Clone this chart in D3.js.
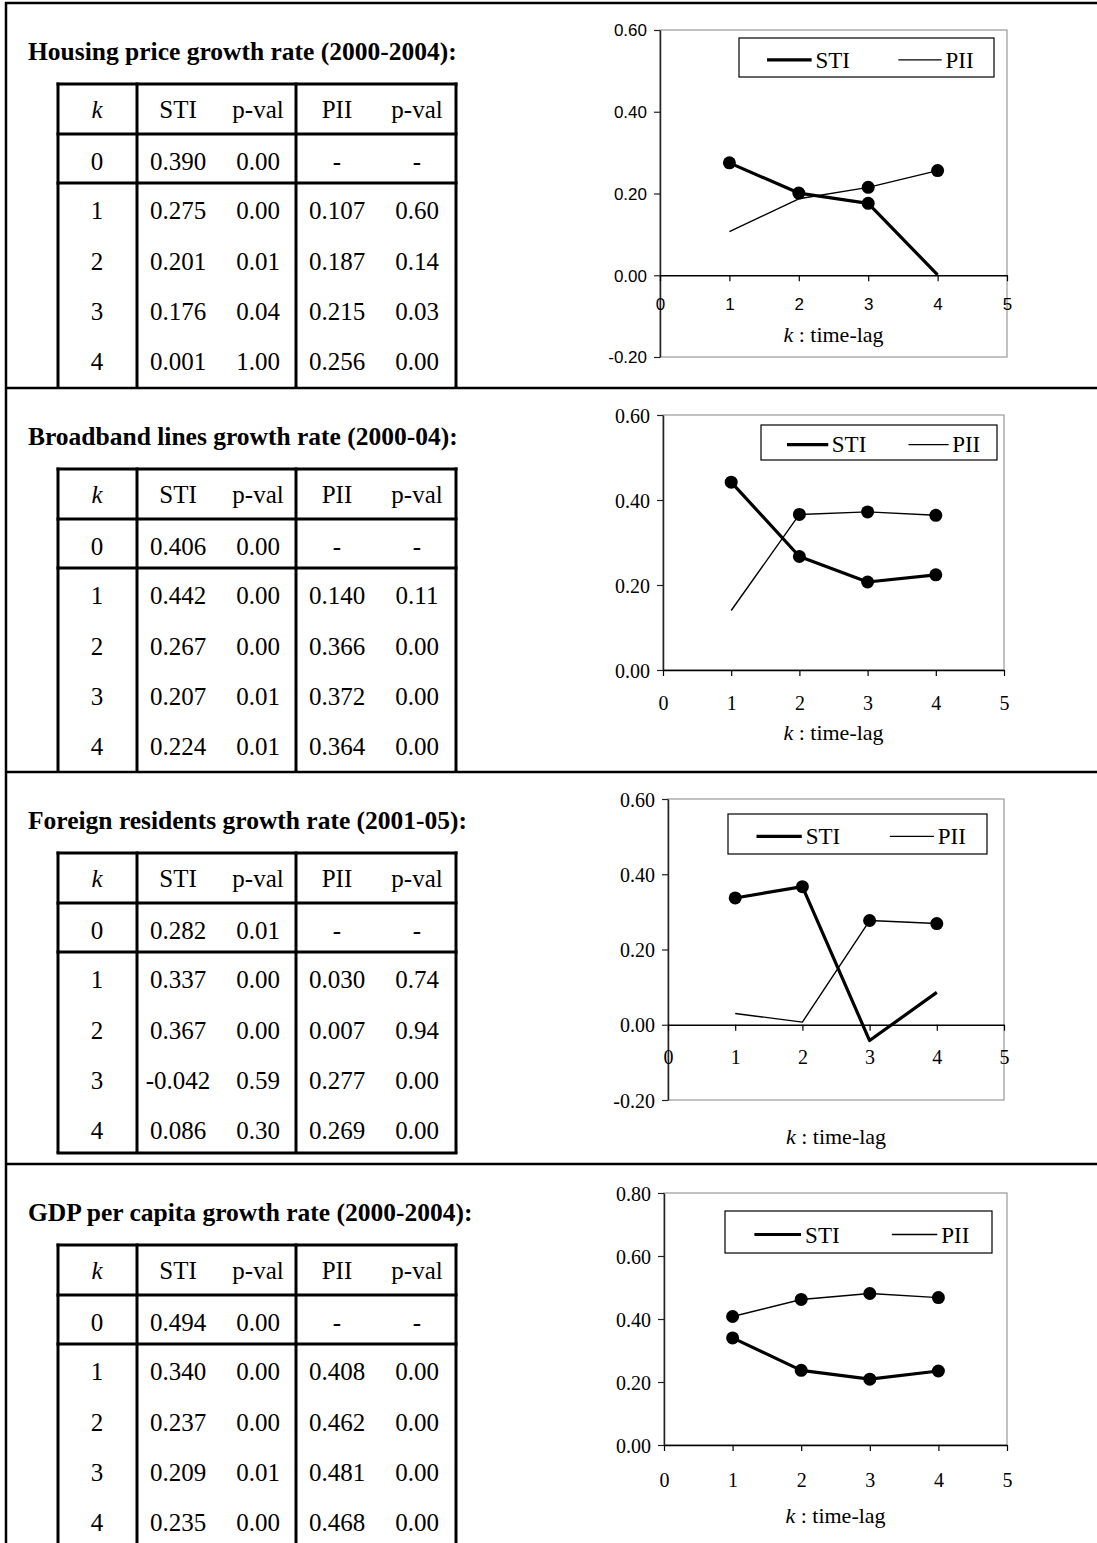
<!DOCTYPE html>
<html>
<head>
<meta charset="utf-8">
<script src="https://cdn.jsdelivr.net/npm/d3@7"></script>
<style>
  html, body { margin: 0; padding: 0; background: #fff; }
  svg { display: block; }
</style>
</head>
<body>
<div id="chart"></div>
<script>
// ---------------- DATA ----------------
const titles = [
  "Housing price growth rate (2000-2004):",
  "Broadband lines growth rate (2000-04):",
  "Foreign residents growth rate (2001-05):",
  "GDP per capita growth rate (2000-2004):"
];
const kValues = [0, 1, 2, 3, 4];
const headerLabels = ["k", "STI", "p-val", "PII", "p-val"];
const stiValues = [
  [0.390, 0.275, 0.201, 0.176, 0.001],
  [0.406, 0.442, 0.267, 0.207, 0.224],
  [0.282, 0.337, 0.367, -0.042, 0.086],
  [0.494, 0.340, 0.237, 0.209, 0.235]
];
const stiPvals = [
  [0.00, 0.00, 0.01, 0.04, 1.00],
  [0.00, 0.00, 0.00, 0.01, 0.01],
  [0.01, 0.00, 0.00, 0.59, 0.30],
  [0.00, 0.00, 0.00, 0.01, 0.00]
];
const piiValues = [
  [null, 0.107, 0.187, 0.215, 0.256],
  [null, 0.140, 0.366, 0.372, 0.364],
  [null, 0.030, 0.007, 0.277, 0.269],
  [null, 0.408, 0.462, 0.481, 0.468]
];
const piiPvals = [
  [null, 0.60, 0.14, 0.03, 0.00],
  [null, 0.11, 0.00, 0.00, 0.00],
  [null, 0.74, 0.94, 0.00, 0.00],
  [null, 0.00, 0.00, 0.00, 0.00]
];
const yTickValues = [
  [-0.2, 0.0, 0.2, 0.4, 0.6],
  [0.0, 0.2, 0.4, 0.6],
  [-0.2, 0.0, 0.2, 0.4, 0.6],
  [0.0, 0.2, 0.4, 0.6, 0.8]
];
const xTickValues = [0, 1, 2, 3, 4, 5];
const seriesNames = ["STI", "PII"];
const xAxisLabel = "time-lag";
const sigLevel = 0.05;

// ---------------- LAYOUT ----------------
const W = 1097, H = 1543;
const panelTop = [3, 388, 772, 1164];
const tableBottom = [388, 772, 1153, 1560];
const tableX = [58, 137, 296, 456];
const colCenters = [97, 178, 258, 337, 417];
const rowBaselines = [167, 216, 267, 317, 367];
const chartLayout = [
  { x0: 660, x1: 1007, yTop: 30,   yBot: 357,  dom: [-0.2, 0.6], sans: true,  xlab: 35, klab: 342,  lg: { x: 739, y: 38,   w: 255, h: 39 } },
  { x0: 663, x1: 1004, yTop: 415,  yBot: 670,  dom: [0, 0.6],    sans: false, xlab: 40, klab: 740,  lg: { x: 761, y: 425,  w: 236, h: 35 } },
  { x0: 668, x1: 1004, yTop: 799,  yBot: 1100, dom: [-0.2, 0.6], sans: false, xlab: 39, klab: 1144, lg: { x: 728, y: 814,  w: 259, h: 40 } },
  { x0: 664, x1: 1007, yTop: 1193, yBot: 1445, dom: [0, 0.8],    sans: false, xlab: 42, klab: 1523, lg: { x: 725, y: 1211, w: 267, h: 42 } }
];
const SERIF = "'Liberation Serif', 'Times New Roman', Times, serif";
const SANS = "'Liberation Sans', Arial, Helvetica, sans-serif";

const svg = d3.select("#chart").append("svg")
  .attr("width", W).attr("height", H)
  .attr("viewBox", `0 0 ${W} ${H}`);
svg.append("rect").attr("width", W).attr("height", H).attr("fill", "#fff");

// outer frame
const frame = svg.append("g").attr("stroke", "#000").attr("stroke-width", 2.5);
frame.append("line").attr("x1", 6).attr("x2", 6).attr("y1", 2).attr("y2", H);
frame.append("line").attr("x1", 5).attr("x2", W).attr("y1", 3).attr("y2", 3);
[388, 772, 1164].forEach(y => frame.append("line").attr("x1", 5).attr("x2", W).attr("y1", y).attr("y2", y));

const fmt3 = v => v.toFixed(3);
const fmt2 = v => v.toFixed(2);

titles.forEach((title, p) => {
  const T = panelTop[p];
  const g = svg.append("g");

  // ---- title ----
  g.append("text").attr("x", 28).attr("y", T + 57)
    .attr("font-family", SERIF).attr("font-weight", "bold").attr("font-size", 25.5)
    .text(title);

  // ---- table ----
  const tTop = T + 81, tBot = tableBottom[p];
  const tl = g.append("g").attr("stroke", "#000").attr("stroke-width", 3);
  tableX.forEach(x => tl.append("line").attr("x1", x).attr("x2", x).attr("y1", tTop - 1.5).attr("y2", tBot));
  [tTop, T + 131, T + 180].forEach(y => tl.append("line").attr("x1", tableX[0] - 1.5).attr("x2", tableX[3] + 1.5).attr("y1", y).attr("y2", y));
  if (p === 2) tl.append("line").attr("x1", tableX[0] - 1.5).attr("x2", tableX[3] + 1.5).attr("y1", tBot).attr("y2", tBot);

  const txt = g.append("g").attr("font-family", SERIF).attr("font-size", 25).attr("text-anchor", "middle");
  headerLabels.forEach((h, i) => {
    txt.append("text").attr("x", colCenters[i]).attr("y", T + 115)
      .attr("font-style", i === 0 ? "italic" : null).text(h);
  });
  kValues.forEach((k, r) => {
    const y = T + rowBaselines[r];
    const cells = [
      String(k),
      fmt3(stiValues[p][r]),
      fmt2(stiPvals[p][r]),
      piiValues[p][r] === null ? "-" : fmt3(piiValues[p][r]),
      piiPvals[p][r] === null ? "-" : fmt2(piiPvals[p][r])
    ];
    cells.forEach((c, i) => txt.append("text").attr("x", colCenters[i]).attr("y", y).text(c));
  });

  // ---- chart ----
  const L = chartLayout[p];
  const x = d3.scaleLinear().domain([0, 5]).range([L.x0, L.x1]);
  const y = d3.scaleLinear().domain(L.dom).range([L.yBot, L.yTop]);
  const tickFont = L.sans ? SANS : SERIF;
  const tickSize = L.sans ? 17 : 20;

  const c = svg.append("g");
  c.append("rect").attr("x", L.x0).attr("y", L.yTop).attr("width", L.x1 - L.x0).attr("height", L.yBot - L.yTop)
    .attr("fill", "none").attr("stroke", "#999").attr("stroke-width", 1.2);

  const yAxis = c.append("g").attr("transform", `translate(${L.x0},0)`)
    .call(d3.axisLeft(y).tickValues(yTickValues[p]).tickSize(6).tickSizeOuter(0).tickFormat(fmt2));
  yAxis.select(".domain").attr("stroke", "#222").attr("stroke-width", 1.5);
  yAxis.selectAll(".tick line").attr("stroke", "#222").attr("stroke-width", 1.2);
  yAxis.selectAll(".tick text").attr("font-family", tickFont).attr("font-size", tickSize)
    .attr("fill", "#000").attr("x", -13).attr("dy", "0.35em");

  const xAxis = c.append("g").attr("transform", `translate(0,${y(0)})`)
    .call(d3.axisBottom(x).tickValues(xTickValues).tickSize(6).tickSizeOuter(0).tickFormat(d3.format("d")));
  xAxis.select(".domain").attr("stroke", "#000").attr("stroke-width", 1.5);
  xAxis.selectAll(".tick line").attr("stroke", "#000").attr("stroke-width", 1.2);
  xAxis.selectAll(".tick text").attr("font-family", tickFont).attr("font-size", tickSize)
    .attr("fill", "#000").attr("y", L.xlab).attr("dy", null);

  // axis title
  const at = c.append("text").attr("x", (L.x0 + L.x1) / 2).attr("y", L.klab)
    .attr("text-anchor", "middle").attr("font-family", SERIF).attr("font-size", 22);
  at.append("tspan").attr("font-style", "italic").text("k");
  at.append("tspan").text(" : " + xAxisLabel);

  // series
  const series = [
    { vals: stiValues[p], pv: stiPvals[p], w: 3.2 },
    { vals: piiValues[p], pv: piiPvals[p], w: 1.4 }
  ];
  const line = d3.line().x(d => x(d.k)).y(d => y(d.v));
  series.forEach(s => {
    const pts = kValues.slice(1).map(k => ({ k, v: s.vals[k], p: s.pv[k] }));
    c.append("path").datum(pts).attr("d", line).attr("fill", "none")
      .attr("stroke", "#000").attr("stroke-width", s.w).attr("stroke-linejoin", "round");
    c.selectAll(null).data(pts.filter(d => d.p < sigLevel)).enter().append("circle")
      .attr("cx", d => x(d.k)).attr("cy", d => y(d.v)).attr("r", 6.5).attr("fill", "#000");
  });

  // legend
  const lg = L.lg;
  const lgG = c.append("g").attr("transform", `translate(${lg.x},${lg.y})`);
  lgG.append("rect").attr("width", lg.w).attr("height", lg.h).attr("fill", "#fff")
    .attr("stroke", "#000").attr("stroke-width", 1.2);
  const ly = lg.h * 0.56, ty = lg.h * 0.76;
  const items = [
    { x1: 0.11, x2: 0.285, tx: 0.30, w: 3.2 },
    { x1: 0.625, x2: 0.795, tx: 0.81, w: 1.4 }
  ];
  items.forEach((it, i) => {
    lgG.append("line").attr("x1", lg.w * it.x1).attr("x2", lg.w * it.x2).attr("y1", ly).attr("y2", ly)
      .attr("stroke", "#000").attr("stroke-width", it.w);
    lgG.append("text").attr("x", lg.w * it.tx).attr("y", ty).attr("font-family", SERIF).attr("font-size", 23)
      .text(seriesNames[i]);
  });
});
</script>
</body>
</html>
